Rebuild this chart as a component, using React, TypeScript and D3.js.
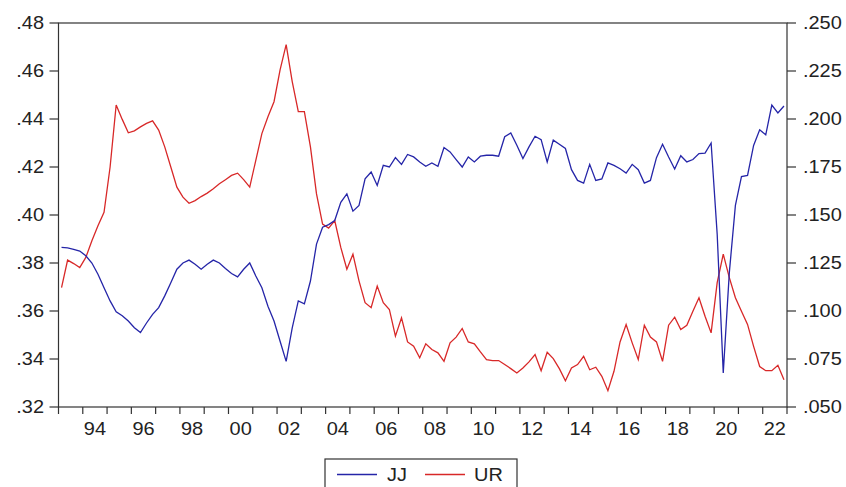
import React from "react";
import * as d3 from "d3";

const START_YEAR = 1993;
const END_YEAR = 2023;

// Quarterly observations 1993Q1 .. 2022Q4
const quarters: string[] = [];
for (let y = 1993; y <= 2022; y++) for (let q = 1; q <= 4; q++) quarters.push(`${y}Q${q}`);

const JJ: number[] = [
  0.3865, 0.3863, 0.3857, 0.385, 0.383, 0.380, 0.3753, 0.3697,
  0.3642, 0.3597, 0.358, 0.3558, 0.353, 0.351, 0.355, 0.3586,
  0.3614, 0.3663, 0.3718, 0.3774, 0.380, 0.3812, 0.3795, 0.3774,
  0.3795, 0.3812, 0.380, 0.3777, 0.3756, 0.3742, 0.3774, 0.380,
  0.3746, 0.3697, 0.362, 0.3558, 0.3474, 0.339, 0.353, 0.3642,
  0.363, 0.3725, 0.3879, 0.3949, 0.396, 0.3977, 0.4053, 0.4088,
  0.4016, 0.404, 0.4151, 0.4179, 0.4123, 0.4207, 0.420, 0.4239,
  0.4211, 0.4252, 0.4242, 0.4221, 0.4203, 0.4217, 0.4203, 0.4281,
  0.4263, 0.4231, 0.420, 0.4242, 0.4221, 0.4245, 0.4249, 0.4249,
  0.4245, 0.4326, 0.4342, 0.4291, 0.4235, 0.4284, 0.4328, 0.4314,
  0.4221, 0.4312, 0.4295, 0.4277, 0.4189, 0.4144, 0.4133, 0.4211,
  0.4144, 0.415, 0.4217, 0.4207, 0.4193, 0.4175, 0.4211, 0.4189,
  0.4133, 0.4144, 0.4239, 0.4295, 0.4242, 0.4192, 0.4247, 0.4221,
  0.4231, 0.4256, 0.4258, 0.430, 0.392, 0.3342, 0.376, 0.404,
  0.416, 0.4165, 0.429, 0.4355, 0.4334, 0.4458, 0.4425, 0.4454,
];

const UR: number[] = [
  0.1122, 0.1265, 0.1247, 0.1226, 0.1279, 0.1366, 0.1444, 0.1514,
  0.175, 0.2073, 0.1998, 0.1928, 0.1938, 0.1959, 0.1977, 0.199,
  0.1942, 0.1855, 0.175, 0.1645, 0.1593, 0.1561, 0.1575, 0.1596,
  0.1614, 0.1637, 0.1663, 0.1684, 0.1706, 0.1718, 0.1684, 0.1645,
  0.1785, 0.1924, 0.2012, 0.209, 0.2256, 0.2387, 0.2195, 0.2038,
  0.2038, 0.1855, 0.161, 0.1453, 0.1432, 0.1471, 0.1331, 0.1218,
  0.1296, 0.1157, 0.1043, 0.1017, 0.113, 0.1043, 0.1008, 0.0869,
  0.0965, 0.0839, 0.0817, 0.0756, 0.0829, 0.0799, 0.0782, 0.0738,
  0.0834, 0.0864, 0.0909, 0.0839, 0.0829, 0.0787, 0.0747, 0.0742,
  0.0742, 0.0721, 0.070, 0.0677, 0.0703, 0.0735, 0.0773, 0.0689,
  0.0785, 0.0752, 0.070, 0.0637, 0.0703, 0.0721, 0.0764, 0.0694,
  0.0707, 0.066, 0.0585, 0.0686, 0.0839, 0.093, 0.0834, 0.0747,
  0.0926, 0.0864, 0.0839, 0.0738, 0.0926, 0.0968, 0.0904, 0.0926,
  0.0999, 0.1069, 0.0973, 0.0886, 0.1148, 0.1296, 0.1174, 0.1069,
  0.0999, 0.093, 0.0816, 0.0711, 0.0689, 0.0689, 0.0717, 0.0642,
];

const leftTicks = [0.32, 0.34, 0.36, 0.38, 0.40, 0.42, 0.44, 0.46, 0.48];
const leftTickLabels = [".32", ".34", ".36", ".38", ".40", ".42", ".44", ".46", ".48"];
const rightTicks = [0.05, 0.075, 0.1, 0.125, 0.15, 0.175, 0.2, 0.225, 0.25];
const rightTickLabels = [".050", ".075", ".100", ".125", ".150", ".175", ".200", ".225", ".250"];
const yearLabels = ["94", "96", "98", "00", "02", "04", "06", "08", "10", "12", "14", "16", "18", "20", "22"];
const yearLabelYears = [1994, 1996, 1998, 2000, 2002, 2004, 2006, 2008, 2010, 2012, 2014, 2016, 2018, 2020, 2022];

const seriesNames = ["JJ", "UR"];
const seriesColors = ["#2525a8", "#d82828"];

const W = 846;
const H = 487;
const L = 58.5;
const R = 787;
const T = 23;
const B = 407;
const FONT = "'Liberation Sans', Arial, sans-serif";
const SX = 1.14;

function quarterPos(label: string): number {
  const y = +label.slice(0, 4);
  const q = +label.slice(5);
  return y + (q - 1) / 4 + 0.125;
}

function Txt(props: { x: number; y: number; anchor?: string; children: React.ReactNode; size?: number }) {
  const { x, y, anchor = "start", children, size = 17.5 } = props;
  return (
    <text
      transform={`translate(${x},${y}) scale(${SX},1)`}
      textAnchor={anchor}
      fontFamily={FONT}
      fontSize={size}
      fill="#222"
    >
      {children}
    </text>
  );
}

export default function App() {
  const x = d3.scaleLinear().domain([START_YEAR, END_YEAR]).range([L, R]);
  const yL = d3.scaleLinear().domain([0.32, 0.48]).range([B, T]);
  const yR = d3.scaleLinear().domain([0.05, 0.25]).range([B, T]);

  const lineL = d3
    .line<number>()
    .x((_, i) => x(quarterPos(quarters[i])))
    .y((d) => yL(d));
  const lineR = d3
    .line<number>()
    .x((_, i) => x(quarterPos(quarters[i])))
    .y((d) => yR(d));

  const years = d3.range(START_YEAR, END_YEAR + 1);

  return (
    <svg
      width={W}
      height={H}
      style={{ position: "absolute", left: 0, top: 0, background: "#fff" }}
    >
      <rect x={0} y={0} width={W} height={H} fill="#fff" />
      {/* series */}
      <path d={lineR(UR) || ""} fill="none" stroke={seriesColors[1]} strokeWidth={1.3} />
      <path d={lineL(JJ) || ""} fill="none" stroke={seriesColors[0]} strokeWidth={1.3} />

      {/* frame */}
      <rect x={L} y={T} width={R - L} height={B - T} fill="none" stroke="#333" strokeWidth={1.2} />

      {/* left axis */}
      {leftTicks.map((t, i) => (
        <g key={"l" + i}>
          <line x1={L - 9} x2={L} y1={yL(t)} y2={yL(t)} stroke="#333" strokeWidth={1.2} />
          <Txt x={44} y={yL(t) + 6} anchor="end">
            {leftTickLabels[i]}
          </Txt>
        </g>
      ))}

      {/* right axis */}
      {rightTicks.map((t, i) => (
        <g key={"r" + i}>
          <line x1={R} x2={R + 9} y1={yR(t)} y2={yR(t)} stroke="#333" strokeWidth={1.2} />
          <Txt x={803} y={yR(t) + 6}>
            {rightTickLabels[i]}
          </Txt>
        </g>
      ))}

      {/* bottom axis */}
      {years.map((yr) => (
        <line key={"x" + yr} x1={x(yr)} x2={x(yr)} y1={B} y2={B + 7} stroke="#333" strokeWidth={1.2} />
      ))}
      {yearLabels.map((lab, i) => (
        <Txt key={"xl" + i} x={x(yearLabelYears[i] + 0.5)} y={435} anchor="middle">
          {lab}
        </Txt>
      ))}

      {/* legend */}
      <rect x={325} y={459} width={192} height={34} fill="#fff" stroke="#333" strokeWidth={1.2} />
      <line x1={337} x2={377} y1={474.5} y2={474.5} stroke={seriesColors[0]} strokeWidth={1.5} />
      <Txt x={387} y={481}>{seriesNames[0]}</Txt>
      <line x1={425} x2={465} y1={474.5} y2={474.5} stroke={seriesColors[1]} strokeWidth={1.5} />
      <Txt x={474} y={481}>{seriesNames[1]}</Txt>
    </svg>
  );
}
